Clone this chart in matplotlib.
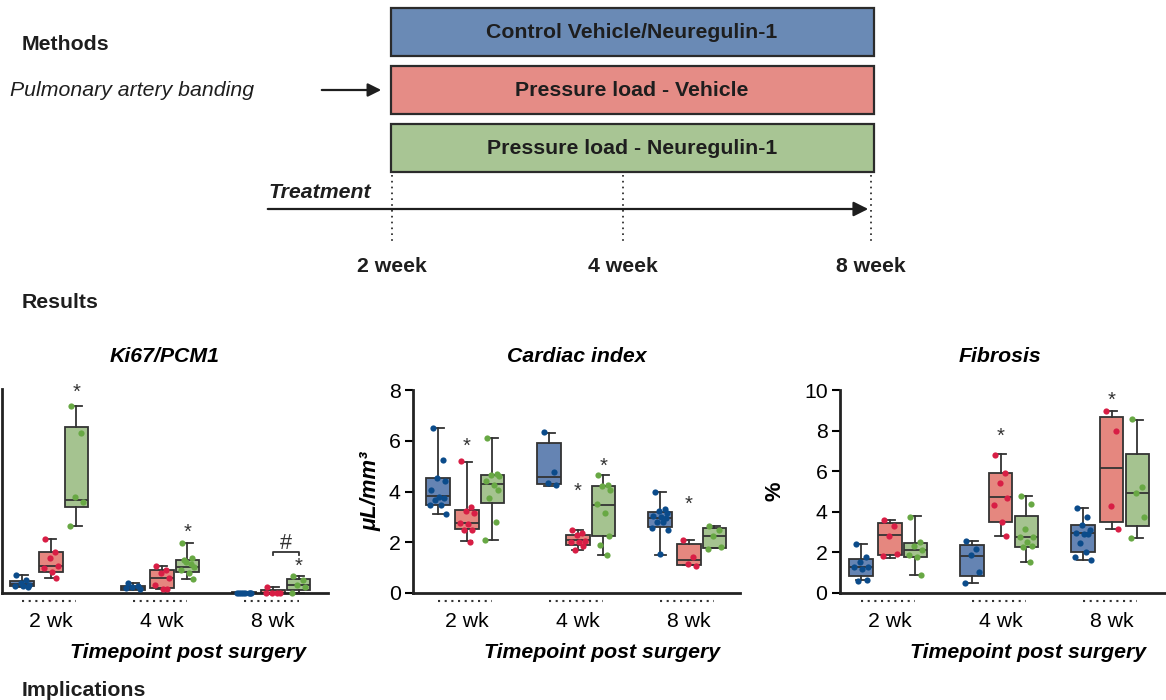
import numpy as np
import matplotlib
matplotlib.use("Agg")
import matplotlib.pyplot as plt
from matplotlib.patches import Rectangle

plt.rcParams['font.family'] = ['Liberation Sans', 'DejaVu Sans']

W, H = 1166, 700
FS = 15.3

# ============================================
# Data
# ============================================
groups = ['Control Vehicle/Neuregulin-1', 'Pressure load - Vehicle', 'Pressure load - Neuregulin-1']
timepoints = ['2 wk', '4 wk', '8 wk']
timeline_labels = ['2 week', '4 week', '8 week']

fill_colors = ['#6584b3', '#e5877f', '#a5c390']
dot_colors = ['#0b4b8a', '#d81e45', '#68a844']
banner_colors = ['#6a8ab5', '#e58c86', '#a8c594']

# box stats per timepoint, per group: (whislo, q1, median, q3, whishi)
ki67_stats = [
    [(0.28, 0.34, 0.42, 0.59, 0.88), (0.75, 1.01, 1.34, 2.00, 2.65), (3.28, 4.20, 4.58, 8.12, 9.15)],
    [(0.18, 0.15, 0.25, 0.34, 0.47), (0.18, 0.25, 0.74, 1.13, 1.32), (0.69, 1.01, 1.27, 1.62, 2.47)],
    [(0.0, 0.0, 0.0, 0.04, 0.04), (0.0, 0.0, 0.0, 0.16, 0.31), (0.0, 0.15, 0.39, 0.70, 0.82)],
]
ki67_points = [
    [[0.88, 0.65, 0.49, 0.41, 0.36, 0.33, 0.29],
     [2.65, 2.00, 1.70, 1.34, 1.21, 1.01, 0.75],
     [9.15, 7.84, 4.72, 4.45, 3.28]],
    [[0.47, 0.34, 0.28, 0.21, 0.25],
     [1.32, 1.13, 0.96, 0.74, 0.39, 0.18, 0.20],
     [2.47, 1.70, 1.54, 1.29, 1.13, 0.96, 0.69, 1.62, 1.40]],
    [[0.0, 0.0, 0.0, 0.0, 0.0, 0.0, 0.0, 0.0],
     [0.31, 0.0, 0.0, 0.0, 0.0],
     [0.82, 0.62, 0.38, 0.31, 0.0]],
]

ci_stats = [
    [(3.12, 3.45, 3.83, 4.52, 6.49), (2.03, 2.52, 2.75, 3.28, 5.18), (2.10, 3.54, 4.30, 4.66, 6.09)],
    [(4.22, 4.30, 4.59, 5.93, 6.32), (1.70, 1.90, 2.10, 2.30, 2.49), (1.51, 2.23, 3.48, 4.20, 4.66)],
    [(1.51, 2.62, 2.95, 3.21, 4.00), (1.11, 1.11, 1.31, 1.94, 2.10), (1.77, 1.77, 2.23, 2.56, 2.66)],
]
ci_points = [
    [[6.5, 5.25, 4.55, 4.4, 4.05, 3.8, 3.75, 3.65, 3.45, 3.45, 3.1],
     [5.2, 3.4, 3.25, 3.15, 2.75, 2.7, 2.5, 2.5, 2.0],
     [6.1, 4.7, 4.65, 4.6, 4.4, 4.25, 4.05, 3.75, 2.8, 2.1]],
    [[6.35, 4.78, 4.35, 4.25],
     [2.5, 2.35, 2.3, 2.05, 2.0, 2.0, 1.85, 1.7],
     [4.65, 4.25, 4.2, 4.05, 3.5, 3.15, 2.25, 1.9, 1.5]],
    [[4.0, 3.3, 3.25, 3.15, 3.05, 3.0, 2.95, 2.8, 2.8, 2.55, 2.5, 1.55],
     [2.1, 1.4, 1.15, 1.05],
     [2.65, 2.5, 2.25, 1.8, 1.75]],
]

fib_stats = [
    [(0.62, 0.82, 1.28, 1.67, 2.43), (1.72, 1.85, 2.84, 3.44, 3.60), (0.90, 1.77, 2.10, 2.46, 3.77)],
    [(0.49, 0.82, 1.84, 2.34, 2.57), (2.82, 3.52, 4.72, 5.90, 6.84), (1.52, 2.26, 2.75, 3.77, 4.80)],
    [(1.64, 2.02, 2.95, 3.33, 4.21), (3.15, 3.49, 6.15, 8.69, 8.95), (2.70, 3.28, 4.95, 6.84, 8.52)],
]
fib_points = [
    [[2.4, 1.75, 1.55, 1.3, 1.3, 1.2, 0.65, 0.6],
     [3.6, 3.3, 2.8, 1.9, 1.8],
     [3.75, 2.5, 2.3, 2.1, 1.85, 1.75, 0.9]],
    [[2.55, 2.15, 1.85, 1.05, 0.5],
     [6.8, 5.9, 5.4, 4.7, 4.35, 3.5, 2.8],
     [4.8, 4.4, 3.15, 2.75, 2.75, 2.5, 2.3, 2.25, 1.55]],
    [[4.2, 3.75, 3.35, 3.1, 2.95, 2.9, 2.9, 2.45, 2.0, 1.75, 1.65],
     [8.95, 8.0, 4.3, 3.15],
     [8.55, 5.2, 4.95, 3.75, 2.7]],
]

# significance marks: (timepoint index, group index, y, symbol)
ki67_marks = [(0, 2, 9.85, '*'), (1, 2, 2.95, '*'), (2, 2, 1.30, '*')]
ci_marks = [(0, 1, 5.77, '*'), (1, 1, 4.0, '*'), (1, 2, 5.0, '*'), (2, 1, 3.48, '*')]
fib_marks = [(1, 1, 7.7, '*'), (2, 1, 9.5, '*')]

# ============================================
# Figure
# ============================================
fig = plt.figure(figsize=(W / 100, H / 100), dpi=100)


def fx(x):
    return x / W


def fy(y):
    return 1 - y / H


# --- Methods diagram (pixel-based overlay) ---
diag = fig.add_axes([0, 0, 1, 1])
diag.set_xlim(0, W)
diag.set_ylim(H, 0)
diag.axis('off')

banner_top = [8, 66, 124]
for i, name in enumerate(groups):
    diag.add_patch(Rectangle((391, banner_top[i]), 483, 48, facecolor=banner_colors[i],
                             edgecolor='#2b2b2b', linewidth=1.6))
    diag.text(632, banner_top[i] + 24, name, ha='center', va='center',
              fontsize=FS, fontweight='bold', color='#1e1e1e')

diag.text(22, 44, 'Methods', fontsize=FS, fontweight='bold', va='center', color='#1e1e1e')
diag.text(10, 90, 'Pulmonary artery banding', fontsize=FS, style='italic', va='center', color='#1e1e1e')
diag.annotate('', xy=(384, 90), xytext=(319, 90),
              arrowprops=dict(arrowstyle='-|>', color='#1e1e1e', lw=1.6, mutation_scale=20))
diag.text(268, 193, 'Treatment', fontsize=FS, fontweight='bold', style='italic', va='center', color='#1e1e1e')
diag.annotate('', xy=(871, 209), xytext=(265, 209),
              arrowprops=dict(arrowstyle='-|>', color='#1e1e1e', lw=1.6, mutation_scale=22))
timeline_x = [392, 623, 871]
for x, lab in zip(timeline_x, timeline_labels):
    diag.plot([x, x], [175, 242], linestyle=(0, (1, 2.5)), color='#1e1e1e', lw=1.2)
    diag.text(x, 267, lab, ha='center', va='center', fontsize=FS, fontweight='bold', color='#1e1e1e')
diag.text(22, 302, 'Results', fontsize=FS, fontweight='bold', va='center', color='#1e1e1e')
diag.text(22, 690, 'Implications', fontsize=FS, fontweight='bold', va='center', color='#1e1e1e')

# --- Results panels ---
offsets = [-0.26, 0.0, 0.23]
box_w = 0.21
jitter = [-0.05, 0.04, -0.01, 0.06, -0.06, 0.01, 0.05, -0.03, 0.03, -0.07, 0.07, 0.0]


def draw_panel(ax, stats, points, marks, ylim, yticks, xlim):
    for t in range(3):
        for g in range(3):
            lo, q1, med, q3, hi = stats[t][g]
            pos = t + offsets[g]
            ax.bxp([dict(whislo=lo, q1=q1, med=med, q3=q3, whishi=hi)], positions=[pos],
                   widths=box_w, capwidths=0.10, patch_artist=True, showfliers=False,
                   boxprops=dict(facecolor=fill_colors[g], edgecolor='#333333', linewidth=1.3),
                   medianprops=dict(color='#333333', linewidth=1.3),
                   whiskerprops=dict(color='#333333', linewidth=1.3),
                   capprops=dict(color='#333333', linewidth=1.3), zorder=2)
            vals = points[t][g]
            xs = [pos + jitter[k % len(jitter)] for k in range(len(vals))]
            ax.scatter(xs, vals, s=20, color=dot_colors[g], zorder=3, linewidths=0, clip_on=False)
        # dotted group underline
        ax.plot([t + offsets[0], t + offsets[2]], [-0.04, -0.04], transform=ax.get_xaxis_transform(),
                linestyle=(0, (1, 2.2)), color='#333333', lw=1.5, clip_on=False)
    for t, g, y, sym in marks:
        ax.text(t + offsets[g], y, sym, ha='center', va='center', fontsize=14.5, color='#333333')
    ax.set_xlim(*xlim)
    ax.set_ylim(*ylim)
    ax.set_xticks(range(3))
    ax.set_xticklabels(timepoints, fontsize=FS)
    ax.tick_params(axis='x', length=0, pad=14)
    ax.set_yticks(yticks)
    ax.tick_params(axis='y', labelsize=FS, length=6, width=1.5, direction='out', pad=3)
    for side in ['top', 'right']:
        ax.spines[side].set_visible(False)
    for side in ['left', 'bottom']:
        ax.spines[side].set_linewidth(2)
        ax.spines[side].set_color('#222222')
    ax.set_facecolor('none')


ax1 = fig.add_axes([fx(2), fy(593), fx(326), 204 / H])
ax2 = fig.add_axes([fx(413), fy(593), fx(327), 203 / H])
ax3 = fig.add_axes([fx(840), fy(593), fx(325), 203 / H])

draw_panel(ax1, ki67_stats, ki67_points, ki67_marks, (0, 10), [], (-0.44, 2.495))
draw_panel(ax2, ci_stats, ci_points, ci_marks, (0, 8), [0, 2, 4, 6, 8], (-0.486, 2.46))
draw_panel(ax3, fib_stats, fib_points, fib_marks, (0, 10), [0, 2, 4, 6, 8, 10], (-0.45, 2.48))

# bracket and '#' in Ki67 panel, 8 wk: vehicle vs neuregulin
bx0, bx1 = 2 + offsets[1], 2 + offsets[2]
ax1.plot([bx0, bx0, bx1, bx1], [1.86, 2.02, 2.02, 1.86], color='#333333', lw=1.3, clip_on=False)
ax1.text((bx0 + bx1) / 2, 2.45, '#', ha='center', va='center', fontsize=15.5, color='#333333')

ax2.set_ylabel('\u03bcL/mm\u00b3', fontsize=FS + 0.5, fontweight='bold', style='italic', labelpad=5)
ax3.set_ylabel('%', fontsize=FS + 0.5, fontweight='bold', labelpad=13)

titles = [('Ki67/PCM1', 165), ('Cardiac index', 577), ('Fibrosis', 1000)]
for txt, x in titles:
    fig.text(fx(x), fy(357), txt, ha='center', va='center', fontsize=FS, fontweight='bold', style='italic')
for x in [188, 602, 1028]:
    fig.text(fx(x), fy(652), 'Timepoint post surgery', ha='center', va='center',
             fontsize=FS, fontweight='bold', style='italic')

fig.savefig('out.png', dpi=100)
